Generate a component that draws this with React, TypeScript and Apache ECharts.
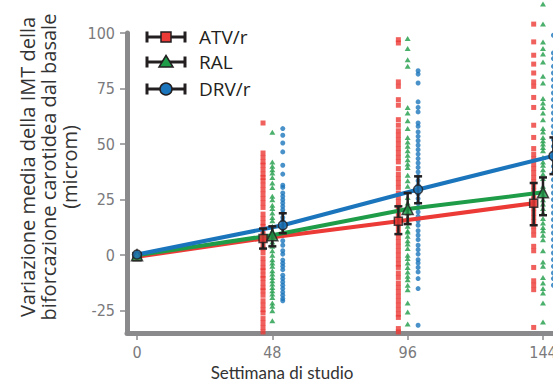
import React, { useEffect, useRef } from "react";
import * as echarts from "echarts";

const weeks = [0, 48, 96, 144];
const xTicks = [0, 48, 96, 144];
const yTicks = [-25, 0, 25, 50, 75, 100];
const seriesNames = ["ATV/r", "RAL", "DRV/r"];

const atvMean = [-0.7, 7.5, 15.3, 23.4];
const atvLow = [-0.7, 3, 9.5, 13.5];
const atvHigh = [-0.7, 12, 22, 32.5];
const ralMean = [0, 9, 20.8, 28.3];
const ralLow = [0, 4, 14, 18];
const ralHigh = [0, 13, 28, 35];
const drvMean = [0.3, 13.5, 29.6, 44.7];
const drvLow = [0.3, 9.9, 23.4, 36.5];
const drvHigh = [0.3, 18.9, 35.5, 53];

// individual patient values at weeks 48, 96, 144
const atv48 = [59.5, 46, 44, 42, 40.5, 38.5, 36.5, 35, 33.5, 31.5, 29.5, 27.5, 25.5, 23.5, 21.5, 18.5, 16.5, 14.5, 13, 11, 9, 7, 5, 3, 1, -1.5, -3.5, -5.5, -7, -9, -10.5, -12.5, -14.5, -16, -18, -20.5, -22.5, -24.5, -26, -28.5, -30.5, -32.5, -34.5];
const ral48 = [55.3, 42, 40, 38.5, 37, 35, 32.5, 30.5, 26.5, 25, 22.5, 21, 19, 17, 15.5, 13, 11, 8, 6, 4, 2, 0, -2, -3.5, -5, -7, -8.5, -10, -11.5, -13, -14.5, -16, -17.5, -19, -21.5, -23, -25, -29.5];
const drv48 = [57, 54, 50.5, 46.5, 40.5, 36.5, 31.5, 30.5, 28, 26.5, 25, 23.5, 22, 20.5, 19, 17, 15.5, 13.5, 12, 9, 6.5, 4.5, 2, 0.5, -2.2, -3.6, -5, -6.5, -9, -10.5, -12, -13.5, -15, -16.6, -18, -19.5, -20.5];
const atv96 = [97, 95.5, 78, 76, 70, 67.5, 61, 58.5, 56, 54, 52, 50, 48, 46, 44, 42, 39, 36.5, 34.5, 32.5, 30.5, 28, 26, 24, 22, 20, 18, 16, 14, 12, 10, 8, 6, 4, 2, 0, -2, -4, -5.5, -8, -10, -12.5, -14.5, -16.5, -18.5, -20.5, -22.5, -24.5, -26.5, -28, -33, -34.5];
const ral96 = [97.5, 93, 88, 85, 66.5, 64, 60.5, 57, 53, 51, 49, 47, 45, 43, 41, 39.5, 36, 33.5, 31, 26, 23.5, 19, 17, 15, 13, 11, 10.5, 8.5, 6.5, 5, 3, 0, -1.5, -3.5, -5.5, -7.5, -9.5, -11, -13.5, -15.5, -21.5, -25.5, -31];
const drv96 = [83, 81.5, 77.5, 69, 66.5, 64.5, 59.5, 58, 55.5, 53.5, 51.5, 49.5, 47.5, 45.5, 43.5, 41.5, 39.5, 37.5, 35.5, 33.5, 31.5, 29.5, 27.5, 25.5, 23.5, 21.5, 19.5, 17.5, 15.5, 13.5, 11, 9, 7, 4.5, 2.5, 0.5, -2, -3.5, -5.5, -7.5, -10.5, -15, -31.5];
const atv144 = [104, 96, 90, 86, 82, 78, 76, 71, 66.5, 58.5, 53, 48, 45.5, 43.5, 41, 39, 37, 35, 33, 31, 29, 27, 25, 23, 21, 19, 17, 15, 13, 11, 9, 4, 2, -5.5, -11.5, -13.5, -15.5, -32.5];
const ral144 = [113, 104, 96, 93, 90.5, 87, 80.5, 77.5, 70.5, 68.5, 66.5, 64, 61, 57, 55.5, 53, 51.5, 50, 48.5, 47, 44, 42, 40.5, 38.5, 36.5, 34.5, 31, 29, 27, 25, 23, 21, 19, 16.5, 14.5, 12.5, 11, 9, 7, 2, -3, -5, -10, -12.5, -15, -17, -21.5, -30];
const drv144 = [99, 91, 88.5, 85, 82, 79, 76, 73, 70, 67, 64, 61, 58, 55, 52, 49, 46, 43, 40, 37, 34, 31, 28, 25, 22, 19, 16, 13, 10, 7, 4, 1, -2, -5, -8, -10.5, -13.5];

const RED = "#ec3a36";
const GREEN = "#1f9c48";
const BLUE = "#1b75bc";
const DODGE = [-3.3, 0, 3.7];

const dx = (w: number, i: number) => (w === 0 ? 0 : w + DODGE[i]);

export default function App() {
  const ref = useRef<HTMLDivElement>(null);
  useEffect(() => {
    if (!ref.current) return;
    const chart = echarts.init(ref.current, null, { renderer: "svg" });
    const means = [atvMean, ralMean, drvMean];
    const lows = [atvLow, ralLow, drvLow];
    const highs = [atvHigh, ralHigh, drvHigh];
    const colors = [RED, GREEN, BLUE];
    const pts = [
      [atv48, atv96, atv144],
      [ral48, ral96, ral144],
      [drv48, drv96, drv144],
    ];
    const ptSymbols = ["rect", "triangle", "circle"];
    const ptSizes = [[5, 5], [6, 5], [5, 5]];
    const meanSymbols = ["rect", "triangle", "circle"];
    const meanSizes = [8, 11, 9];
    const series: any[] = [];
    for (let i = 0; i < 3; i++) {
      const data: number[][] = [];
      pts[i].forEach((arr, k) => {
        arr.forEach((v) => data.push([dx(weeks[k + 1], i), v]));
      });
      series.push({
        type: "scatter",
        name: seriesNames[i] + " pts",
        data,
        symbol: ptSymbols[i],
        symbolSize: ptSizes[i],
        itemStyle: { color: colors[i] },
        clip: false,
        z: 1,
        silent: true,
      });
    }
    [0, 1, 2].forEach((i) => {
      series.push({
        type: "line",
        name: seriesNames[i],
        data: weeks.map((w, k) => [dx(w, i), means[i][k]]),
        showSymbol: false,
        clip: false,
        lineStyle: { color: colors[i], width: 4 },
        z: 2,
      });
    });
    for (let i = 0; i < 3; i++) {
      series.push({
        type: "custom",
        name: seriesNames[i] + " err",
        clip: false,
        data: weeks
          .map((w, k) => [dx(w, i), lows[i][k], highs[i][k]])
          .filter((d) => d[1] !== d[2]),
        z: 3,
        renderItem: (params: any, api: any) => {
          const x = api.value(0);
          const lo = api.coord([x, api.value(1)]);
          const hi = api.coord([x, api.value(2)]);
          const cap = 4;
          const st = { stroke: "#231f20", lineWidth: 2.5 };
          return {
            type: "group",
            children: [
              { type: "line", shape: { x1: lo[0], y1: lo[1], x2: hi[0], y2: hi[1] }, style: st },
              { type: "line", shape: { x1: lo[0] - cap, y1: lo[1], x2: lo[0] + cap, y2: lo[1] }, style: st },
              { type: "line", shape: { x1: hi[0] - cap, y1: hi[1], x2: hi[0] + cap, y2: hi[1] }, style: st },
            ],
          };
        },
      });
    }
    for (let i = 0; i < 3; i++) {
      series.push({
        type: "scatter",
        name: seriesNames[i] + " mean",
        data: weeks.map((w, k) => [dx(w, i), means[i][k]]),
        symbol: meanSymbols[i],
        symbolSize: meanSizes[i],
        itemStyle: { color: colors[i], borderColor: "#231f20", borderWidth: 1.5 },
        clip: false,
        z: 4,
      });
    }

    const lx1 = 147, lx2 = 185, lmx = 166, ltx = 199;
    const ly = [37, 62, 89];
    const legendChildren: any[] = [];
    ly.forEach((y, i) => {
      const st = { stroke: "#231f20", lineWidth: 3 };
      legendChildren.push(
        { type: "line", shape: { x1: lx1, y1: y, x2: lx2, y2: y }, style: st },
        { type: "line", shape: { x1: lx1, y1: y - 5.5, x2: lx1, y2: y + 5.5 }, style: st },
        { type: "line", shape: { x1: lx2, y1: y - 5.5, x2: lx2, y2: y + 5.5 }, style: st }
      );
      const ms = { fill: colors[i], stroke: "#231f20", lineWidth: 1.5 };
      if (i === 0) legendChildren.push({ type: "rect", shape: { x: lmx - 5, y: y - 5, width: 10, height: 10 }, style: ms });
      if (i === 1) legendChildren.push({ type: "polygon", shape: { points: [[lmx, y - 6.5], [lmx + 7, y + 5], [lmx - 7, y + 5]] }, style: ms });
      if (i === 2) legendChildren.push({ type: "circle", shape: { cx: lmx, cy: y, r: 6 }, style: ms });
      legendChildren.push({
        type: "text",
        x: ltx,
        y,
        style: { text: seriesNames[i], font: "19px 'Open Sans', Lato, sans-serif", fill: "#231f20", verticalAlign: "middle", align: "left" },
      });
    });

    const tickFont = "'Liberation Sans Narrow', 'DejaVu Sans Condensed', sans-serif";
    chart.setOption({
      animation: false,
      grid: { left: 127, top: 33, right: 0, height: 300, containLabel: false, outerBoundsMode: "none" },
      xAxis: {
        type: "value",
        min: -3.55,
        max: 147.55,
        axisLine: { onZero: false, lineStyle: { color: "#8a8a8c", width: 5 } },
        axisTick: { customValues: xTicks, length: 7, lineStyle: { color: "#8a8a8c", width: 1.5 } },
        axisLabel: { customValues: xTicks, color: "#7a7a7c", fontSize: 16, fontFamily: tickFont, margin: 11, hideOverlap: false },
        splitLine: { show: false },
      },
      yAxis: {
        type: "value",
        min: -35,
        max: 100,
        axisLine: { show: true, onZero: false, lineStyle: { color: "#8a8a8c", width: 5 } },
        axisTick: { show: true, customValues: yTicks, length: 7, lineStyle: { color: "#8a8a8c", width: 1.5 } },
        axisLabel: { customValues: yTicks, color: "#7a7a7c", fontSize: 16, fontFamily: tickFont, margin: 12 },
        splitLine: { show: false },
      },
      graphic: [
        ...legendChildren,
        {
          type: "text",
          x: 282,
          y: 372,
          style: { text: "Settimana di studio", font: "17px Lato, 'Open Sans', sans-serif", fill: "#333", align: "center", verticalAlign: "middle" },
        },
        {
          type: "text",
          x: 48,
          y: 167,
          rotation: Math.PI / 2,
          style: {
            text: "Variazione media della IMT della\nbiforcazione carotidea dal basale\n(microm)",
            font: "20px 'Open Sans', Lato, sans-serif",
            lineHeight: 21,
            fill: "#333",
            align: "center",
            verticalAlign: "middle",
          },
        },
      ],
      series,
    });
    return () => chart.dispose();
  }, []);
  return <div ref={ref} style={{ width: 553, height: 381, position: "absolute", left: 0, top: 0 }} />;
}
